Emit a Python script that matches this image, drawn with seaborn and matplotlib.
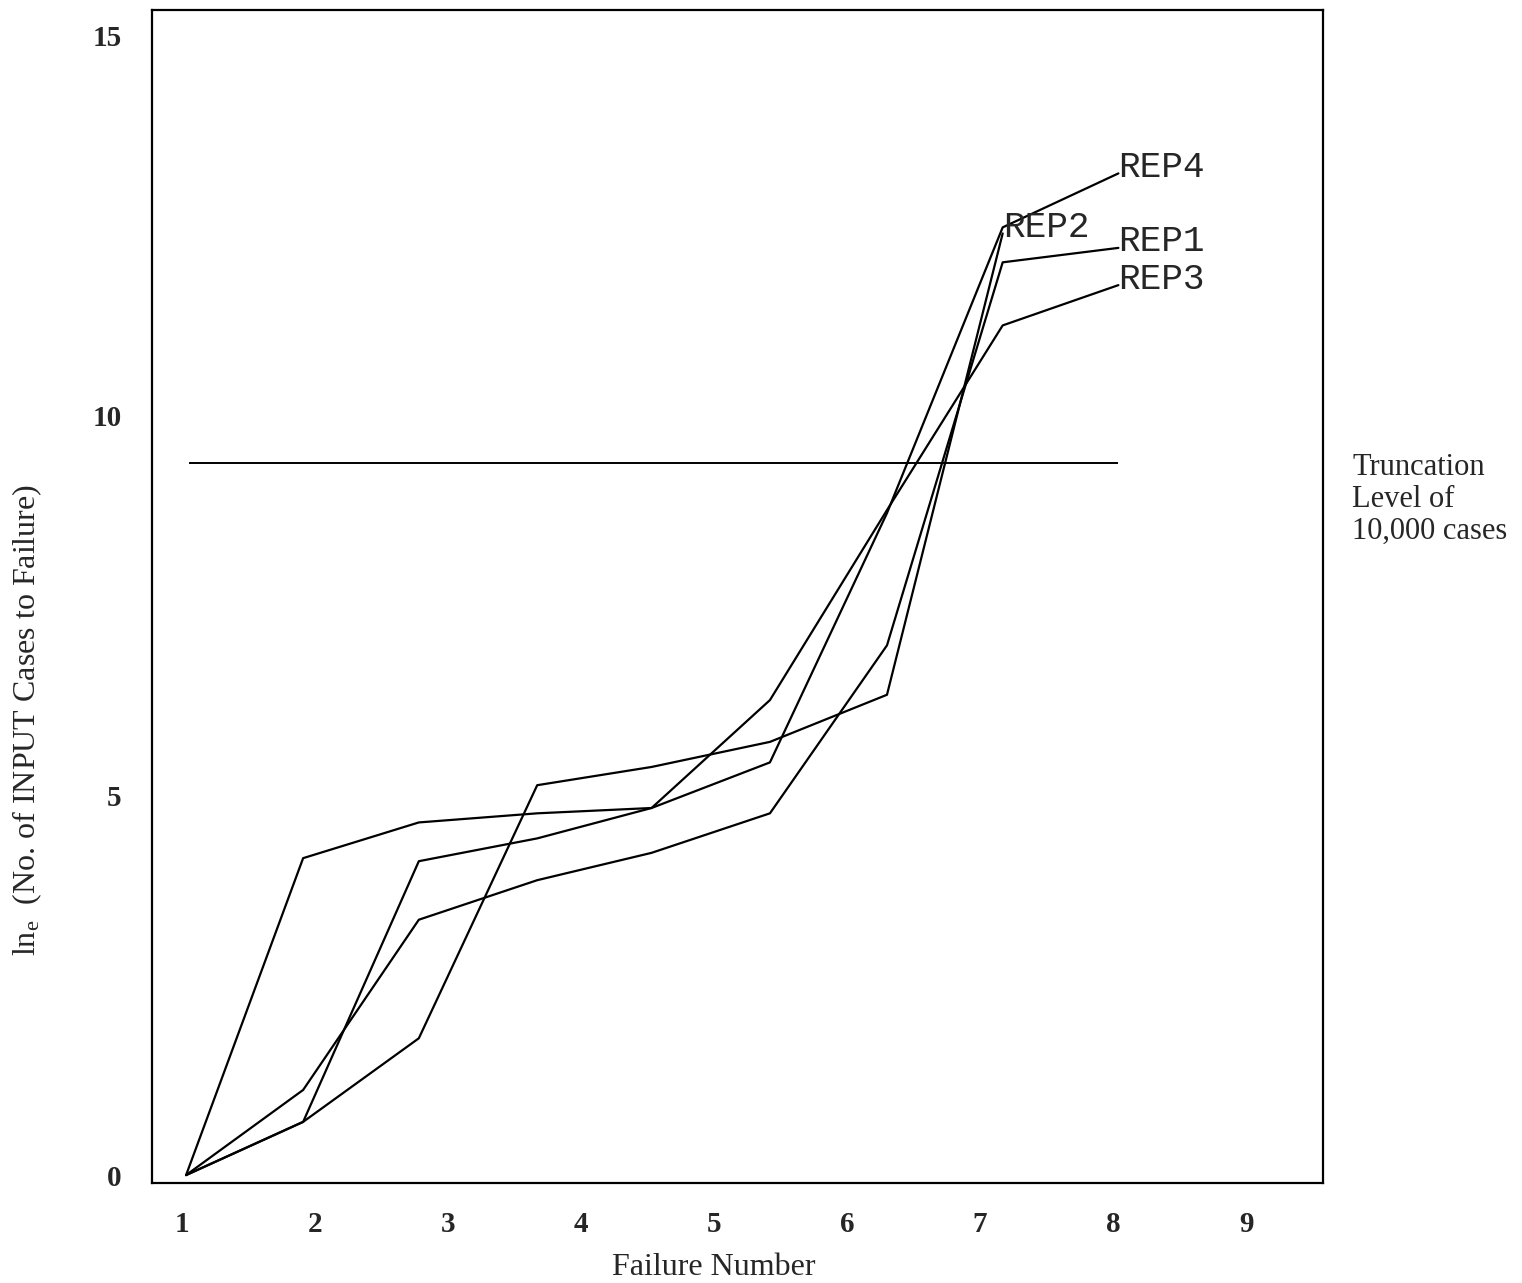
import numpy as np
import pandas as pd
import matplotlib
matplotlib.use("Agg")
import matplotlib.pyplot as plt
import seaborn as sns

# values
failure_pos = [1.03, 1.91, 2.78, 3.67, 4.53, 5.42, 6.30, 7.17, 8.04]
rep1 = [0.0, 1.12, 3.36, 3.88, 4.24, 4.76, 6.97, 12.01, 12.20]
rep2 = [0.0, 0.70, 1.80, 5.13, 5.37, 5.70, 6.32, 12.39]
rep3 = [0.0, 4.17, 4.64, 4.76, 4.83, 6.25, 8.75, 11.18, 11.71]
rep4 = [0.0, 0.70, 4.13, 4.43, 4.83, 5.43, 8.71, 12.47, 13.18]
rep_names = ["REP1", "REP2", "REP3", "REP4"]
truncation = 9.37
trunc_span = [1.05, 8.04]
x_ticks = [1, 2, 3, 4, 5, 6, 7, 8, 9]
y_ticks = [0, 5, 10, 15]

# long-form table for seaborn
rows = []
for name, vals in zip(rep_names, [rep1, rep2, rep3, rep4]):
    for x, y in zip(failure_pos, vals):
        rows.append({"failure": x, "ln_cases": y, "rep": name})
df = pd.DataFrame(rows)

sns.set_style("white")
plt.rcParams["font.family"] = ["Liberation Serif", "DejaVu Serif"]
plt.rcParams["mathtext.fontset"] = "custom"
plt.rcParams["mathtext.rm"] = "Liberation Serif"

fig = plt.figure(figsize=(15.22, 12.83), dpi=100)
ax = fig.add_axes([0.0999, 0.0779, 0.7694, 0.9143])

sns.lineplot(data=df, x="failure", y="ln_cases", hue="rep",
             palette=["black"] * 4, estimator=None, sort=False,
             linewidth=1.6, legend=False, ax=ax)

ax.hlines(truncation, trunc_span[0], trunc_span[1], color="black", linewidth=1.4)

# series labels at the end of each line
for name, vals in zip(rep_names, [rep1, rep2, rep3, rep4]):
    n = len(vals)
    ax.text(failure_pos[n - 1], vals[-1] + 0.08, name, ha="left", va="center",
            fontsize=26, family="Liberation Mono")

ax.text(9.80, truncation - 0.48, "Truncation\nLevel of\n10,000 cases",
        ha="left", va="center", fontsize=22, linespacing=1.12, clip_on=False)

ax.set_xlim(0.774, 9.579)
ax.set_ylim(-0.105, 15.33)
ax.set_xticks(x_ticks)
ax.set_yticks(y_ticks)
ax.tick_params(axis="both", length=0, labelsize=21)
ax.tick_params(axis="x", pad=20)
ax.tick_params(axis="y", pad=22)
for lab in ax.get_xticklabels() + ax.get_yticklabels():
    lab.set_fontweight("bold")

ax.set_xlabel("Failure Number", fontsize=23)
ax.set_ylabel(r"$\mathregular{ln_e}$  (No. of INPUT Cases to Failure)",
              fontsize=23)
ax.xaxis.set_label_coords(0.48, -0.060)
ax.yaxis.set_label_coords(-0.092, 0.395)

for sp in ax.spines.values():
    sp.set_visible(True)
    sp.set_color("black")
    sp.set_linewidth(1.6)

fig.savefig("out.png", dpi=100, facecolor="white")
